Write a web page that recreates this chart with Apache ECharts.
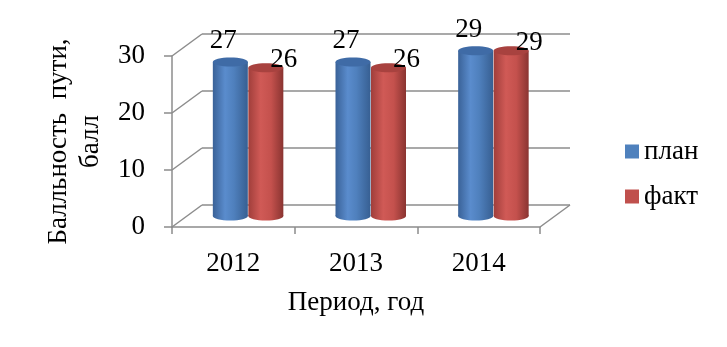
<!DOCTYPE html>
<html><head><meta charset="utf-8">
<script src="https://cdn.jsdelivr.net/npm/echarts@6/dist/echarts.min.js"></script>
<style>html,body{margin:0;padding:0;background:#fff}#c{width:727px;height:347px}</style>
</head><body><div id="c"></div>
<script>
const categories = ['2012', '2013', '2014'];
const planValues = [27, 27, 29];
const factValues = [26, 26, 29];
const yTicks = [0, 10, 20, 30];
const seriesNames = ['план', 'факт'];
const yAxisTitle = 'Балльность  пути,\nбалл';
const xAxisTitle = 'Период, год';

const DEPTH_X = 30, DEPTH_Y = -22;
const FONT = 'Liberation Serif, Times New Roman, serif';
const GRID_COLOR = '#8c8c8c';

const chart = echarts.init(document.getElementById('c'), null, {renderer: 'canvas'});

function wallRenderer(params, api) {
  const cs = params.coordSys;
  const x0 = cs.x, x1 = cs.x + cs.width;
  const children = [];
  yTicks.forEach(t => {
    const y = api.coord([0, t])[1];
    children.push({type: 'line', shape: {x1: x0, y1: y, x2: x0 + DEPTH_X, y2: y + DEPTH_Y},
      style: {stroke: GRID_COLOR, lineWidth: 1.5}});
    children.push({type: 'line', shape: {x1: x0 + DEPTH_X, y1: y + DEPTH_Y, x2: x1 + DEPTH_X, y2: y + DEPTH_Y},
      style: {stroke: GRID_COLOR, lineWidth: 1.5}});
  });
  const yb = api.coord([0, 0])[1];
  children.push({type: 'line', shape: {x1: x1, y1: yb, x2: x1 + DEPTH_X, y2: yb + DEPTH_Y},
    style: {stroke: GRID_COLOR, lineWidth: 1.5}});
  return {type: 'group', children};
}

function cylinderRenderer(shiftX, stops, topColor, labelDx, labelDy) {
  return function (params, api) {
    const cat = api.value(0), val = api.value(1);
    const top = api.coord([cat, val]);
    const base = api.coord([cat, 0]);
    const cx = top[0] + DEPTH_X / 2 + shiftX;
    const ty = top[1] + DEPTH_Y / 2;
    const by = base[1] + DEPTH_Y / 2;
    const w = 35, rx = w / 2, ry = 4.5;
    const grad = new echarts.graphic.LinearGradient(0, 0, 1, 0, stops);
    return {type: 'group', children: [
      {type: 'ellipse', shape: {cx: cx, cy: by, rx: rx, ry: ry}, style: {fill: grad}},
      {type: 'rect', shape: {x: cx - rx, y: ty, width: w, height: by - ty}, style: {fill: grad}},
      {type: 'ellipse', shape: {cx: cx, cy: ty, rx: rx, ry: ry}, style: {fill: topColor}},
      {type: 'text', z2: 10, style: {text: String(val), x: cx + labelDx, y: ty + labelDy,
        fill: '#000', font: '27px ' + FONT, textAlign: 'center', textVerticalAlign: 'middle'}}
    ]};
  };
}

const blueStops = [
  {offset: 0, color: '#3a6298'}, {offset: 0.35, color: '#5a8ccd'},
  {offset: 0.6, color: '#4f80bd'}, {offset: 1, color: '#375f92'}];
const redStops = [
  {offset: 0, color: '#a03e3b'}, {offset: 0.35, color: '#d05a56'},
  {offset: 0.65, color: '#c4514d'}, {offset: 1, color: '#8a3431'}];

chart.setOption({
  animation: false,
  grid: {left: 172, right: 187, top: 56, bottom: 120},
  legend: {
    orient: 'vertical', left: 620, top: 133, icon: 'rect', itemWidth: 14, itemHeight: 14,
    itemGap: 18, itemTextGap: 8, itemStyle: {borderWidth: 0},
    textStyle: {fontFamily: FONT, fontSize: 27, color: '#000', lineHeight: 27},
    data: seriesNames
  },
  xAxis: {
    type: 'category', data: categories,
    axisLine: {lineStyle: {color: GRID_COLOR, width: 1.5}},
    axisTick: {show: true, length: 7, lineStyle: {color: GRID_COLOR, width: 1.5}},
    axisLabel: {fontFamily: FONT, fontSize: 27, color: '#000', margin: 23},
    name: xAxisTitle, nameLocation: 'middle', nameGap: 62,
    nameTextStyle: {fontFamily: FONT, fontSize: 27, color: '#000'}
  },
  yAxis: {
    type: 'value', min: 0, max: 30, interval: 10,
    axisLine: {show: true, lineStyle: {color: GRID_COLOR, width: 1.5}},
    axisTick: {show: true, length: 8, lineStyle: {color: GRID_COLOR, width: 1.5}},
    splitLine: {show: false},
    axisLabel: {fontFamily: FONT, fontSize: 27, color: '#000', margin: 27},
    name: yAxisTitle, nameLocation: 'middle', nameGap: 61, nameRotate: 90,
    nameTextStyle: {fontFamily: FONT, fontSize: 27, color: '#000', lineHeight: 32, align: 'center'}
  },
  series: [
    {type: 'custom', silent: true, renderItem: wallRenderer, data: [[0]], z: 1},
    {type: 'custom', name: seriesNames[0], itemStyle: {color: '#4f81bd'}, z: 2,
      renderItem: cylinderRenderer(-18, blueStops, '#3f6ba6', -7, -21),
      data: planValues.map((v, i) => [i, v])},
    {type: 'custom', name: seriesNames[1], itemStyle: {color: '#c0504d'}, z: 3,
      renderItem: cylinderRenderer(17.5, redStops, '#a8423f', 18, -8),
      data: factValues.map((v, i) => [i, v])}
  ]
});
</script></body></html>
